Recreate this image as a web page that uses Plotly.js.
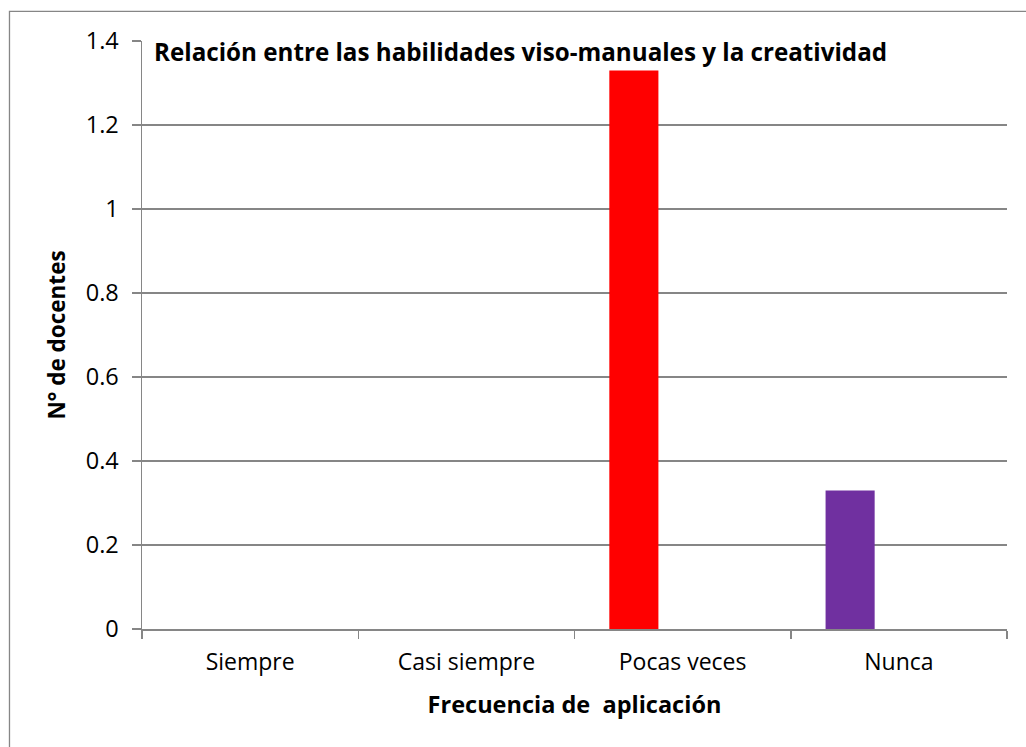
<!DOCTYPE html>
<html>
<head>
<meta charset="utf-8">
<script src="https://cdn.plot.ly/plotly-3.0.1.min.js"></script>
<style>
  html, body { margin: 0; padding: 0; background: #ffffff; }
  #chart { width: 1026px; height: 747px; }
</style>
</head>
<body>
<div id="chart"></div>
<script>
// Data
var categories = ["Siempre", "Casi siempre", "Pocas veces", "Nunca"];
var values = [0, 0, 1.33, 0.33];
var barColors = ["#4F81BD", "#C0504D", "#FF0000", "#7030A0"];
var yTickValues = [0, 0.2, 0.4, 0.6, 0.8, 1, 1.2, 1.4];
var chartTitle = "Relación entre las habilidades viso-manuales y la creatividad";
var xTitle = "Frecuencia de&nbsp; aplicación";
var yTitle = "N° de docentes";

var FONT = "'Open Sans', sans-serif";
var GRID = "#868686";

var trace = {
  type: "bar",
  x: categories,
  y: values,
  marker: { color: barColors, line: { width: 0 } },
  width: 0.227,
  offset: -0.339,
  hoverinfo: "x+y"
};

var layout = {
  width: 1026,
  height: 747,
  margin: { l: 142, r: 19, t: 41, b: 118 },
  paper_bgcolor: "#ffffff",
  plot_bgcolor: "#ffffff",
  showlegend: false,
  font: { family: FONT, size: 20, color: "#000000" },
  title: {
    text: "<b>" + chartTitle + "</b>",
    font: { family: FONT, size: 24.2, color: "#000000" },
    xref: "paper", yref: "paper",
    x: 0.0139, xanchor: "left",
    y: 0.981, yanchor: "middle"
  },
  xaxis: {
    type: "category",
    showgrid: false,
    showline: true,
    linecolor: GRID,
    linewidth: 1.5,
    ticks: "outside",
    tickson: "boundaries",
    ticklen: 8,
    tickcolor: GRID,
    tickwidth: 1.5,
    ticklabelstandoff: 12,
    tickfont: { family: FONT, size: 23, color: "#000000" },
    title: {
      text: "<b>" + xTitle + "</b>",
      font: { family: FONT, size: 23.5, color: "#000000" },
      standoff: 20
    },
    automargin: false,
    fixedrange: true
  },
  yaxis: {
    range: [0, 1.4],
    tickvals: yTickValues,
    showgrid: true,
    gridcolor: GRID,
    gridwidth: 1.3,
    zeroline: false,
    showline: true,
    linecolor: GRID,
    linewidth: 1.5,
    ticks: "outside",
    ticklen: 9,
    tickcolor: GRID,
    tickwidth: 1.5,
    ticklabelstandoff: 8,
    tickfont: { family: FONT, size: 23.5, color: "#000000" },
    title: {
      text: "<b>" + yTitle + "</b>",
      font: { family: FONT, size: 22.5, color: "#000000" },
      standoff: 14
    },
    automargin: false,
    fixedrange: true
  },
  shapes: [{
    type: "rect",
    xref: "paper", yref: "paper",
    x0: -0.1532, x1: 1.03,
    y0: -0.21, y1: 1.0505,
    line: { color: GRID, width: 1.3 },
    fillcolor: "rgba(0,0,0,0)",
    layer: "below"
  }]
};

Plotly.newPlot("chart", [trace], layout, { displayModeBar: false, staticPlot: true });
</script>
</body>
</html>
